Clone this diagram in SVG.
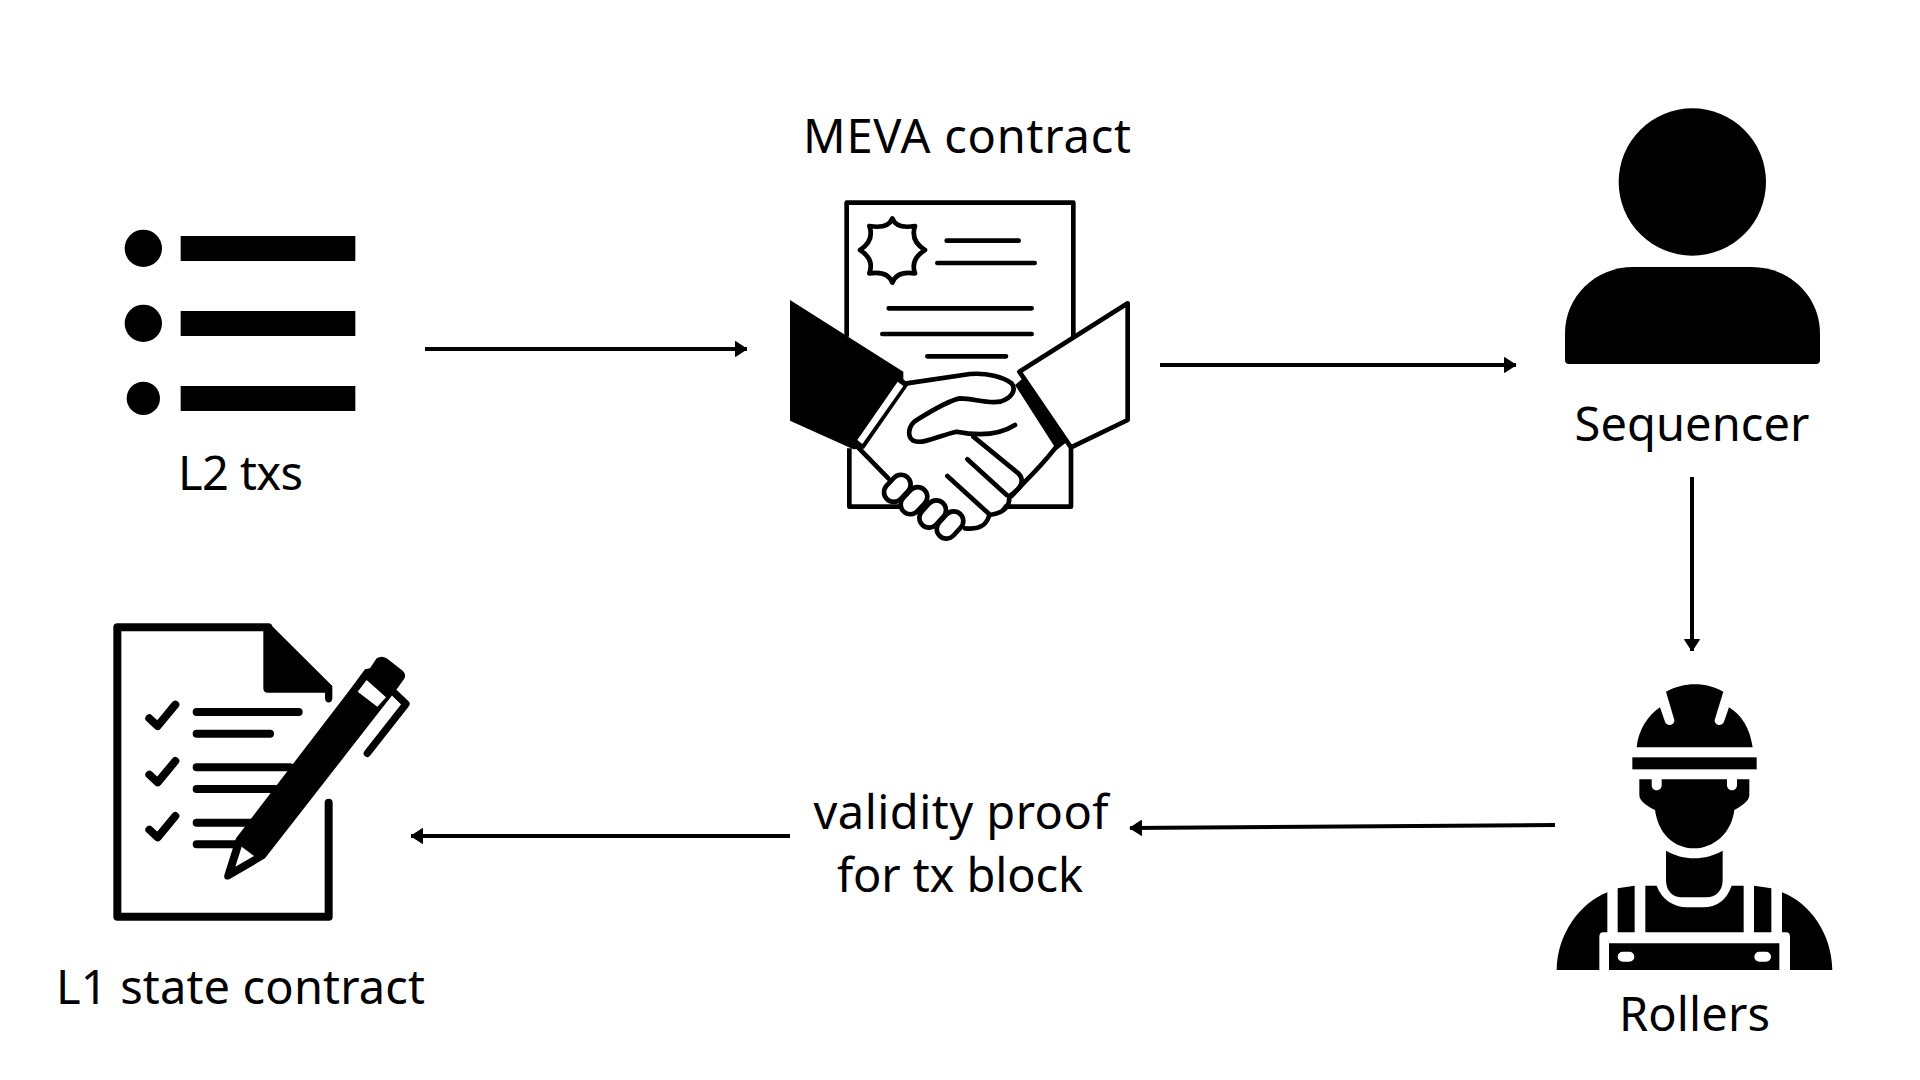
<svg xmlns="http://www.w3.org/2000/svg" width="1920" height="1080" viewBox="0 0 1920 1080">
<style>
.t{font-family:"Noto Sans","Open Sans",sans-serif;font-size:47px;fill:#000;text-anchor:middle}
.c{fill:none;stroke:#000;stroke-width:4;marker-end:url(#a)}
.k{fill:none;stroke:#000;stroke-linecap:round;stroke-linejoin:round}
</style>
<defs>
<marker id="a" markerUnits="userSpaceOnUse" markerWidth="18" markerHeight="20" refX="14" refY="10" orient="auto"><path d="M2.5 2.5L14 10L2.5 17.5Z" fill="#000" stroke="#000" stroke-width="1" stroke-linejoin="round"/></marker>
<rect id="f" x="-45" y="-29" width="90" height="58" rx="29" fill="#fff" stroke="#000" stroke-width="14"/>
</defs>
<rect width="1920" height="1080" fill="#fff"/>
<g id="connectors">
<line class="c" x1="425" y1="349" x2="747" y2="349"/>
<line class="c" x1="1160" y1="365" x2="1516" y2="365"/>
<line class="c" x1="1692" y1="477" x2="1692" y2="651"/>
<line class="c" x1="1555" y1="825" x2="1130" y2="828"/>
<line class="c" x1="790" y1="836" x2="411" y2="836"/>
</g>
<g id="l2-txs">
<g transform="translate(90,200) scale(.33333)">
<circle cx="160" cy="145" r="56"/><circle cx="160" cy="370" r="56"/><circle cx="160" cy="595" r="50"/>
<rect x="272" y="108" width="524" height="75"/><rect x="272" y="333" width="524" height="75"/><rect x="272" y="558" width="524" height="75"/>
</g>
<text class="t" x="240.5" y="490" textLength="125">L2 txs</text>
</g>
<g id="meva-contract">
<g transform="translate(740,90) scale(.33333)">
<path d="M328 1075V1250H993V1072" fill="#fff" stroke="#000" stroke-width="14" stroke-linejoin="round"/>
<path d="M320 740V338H1000V750" fill="#fff" stroke="#000" stroke-width="14" stroke-linejoin="round"/>
<path class="k" stroke-width="14" d="M457 385Q470 418 525 408Q510 452 555 480Q510 508 525 550Q470 542 457 578Q444 542 388 550Q404 508 360 480Q404 452 388 408Q444 418 457 385Z"/>
<path class="k" stroke-width="14" d="M620 452H836M592 519H884M446 655H875M427 732H875M562 799H798"/>
<path d="M355 1070L445 1165L690 1320L760 1290L810 1220L945 1075L825 880L690 852L500 880Z" fill="#fff"/>
<path d="M150 630L490 845L490 868L507 882L372 1076L340 1078L150 992Z"/>
<path d="M473 875L490 888L367 1062L352 1050Z" fill="#fff"/>
<path d="M1163 640L838 845L993 1072L1163 990Z" fill="#fff" stroke="#000" stroke-width="14" stroke-linejoin="round"/>
<path d="M825 885L852 862L985 1052L950 1080Z"/>
<path class="k" stroke-width="14" d="M352 1070L445 1165"/>
<path class="k" stroke-width="14" d="M500 880L690 852C740 848 790 860 815 880C830 900 815 925 780 935C740 942 700 925 660 925C630 930 570 965 530 990C505 1005 500 1040 520 1052C550 1065 600 1035 650 1025C700 1035 770 1040 825 1005"/>
<path class="k" stroke-width="14" d="M945 1075C910 1120 880 1150 850 1180L815 1218"/>
<path class="k" stroke-width="14" d="M700 1040L835 1150C855 1170 845 1195 808 1218C810 1250 790 1270 748 1275C740 1305 720 1320 675 1315"/>
<path class="k" stroke-width="14" d="M682 1108L800 1215M622 1158L745 1270"/>
<use href="#f" transform="translate(522,1232) rotate(-47)"/>
<use href="#f" transform="translate(472,1195) rotate(-47)"/>
<use href="#f" transform="translate(578,1272) rotate(-47)"/>
<use href="#f" transform="translate(630,1305) rotate(-47)"/>
</g>
<text class="t" x="967" y="153" textLength="328">MEVA contract</text>
</g>
<g id="sequencer">
<g transform="translate(1540,90) scale(.33333)">
<circle cx="457" cy="276" r="221"/>
<path d="M75 810V730C75 620 165 531 280 531H635C750 531 840 620 840 730V810Q840 822 828 822H87Q75 822 75 810Z"/>
</g>
<text class="t" x="1692" y="441" textLength="235">Sequencer</text>
</g>
<g id="rollers">
<g transform="translate(1540,670) scale(.33333)">
<path d="M290 232C295 180 325 135 360 112L375 155C382 172 405 165 403 150L378 65C430 35 500 35 550 65L524 150C522 165 545 172 552 155L567 112C605 135 630 175 638 232Z"/>
<rect x="277" y="262" width="373" height="36"/>
<path d="M298 328H335V345C335 366 365 366 365 345V328H561V345C561 366 591 366 591 345V328H628V375C628 395 600 410 583 420C575 490 520 535 463 535C400 535 355 490 345 420C325 410 298 395 298 375Z"/>
<path d="M378 542C430 572 495 572 548 542V630C548 665 525 682 500 682H425C400 682 378 665 378 630Z"/>
<path d="M50 900C52 790 120 700 202 667V787H190Q178 787 178 800V900Z"/>
<path d="M726 667C810 700 875 790 877 900H750V800Q750 787 738 787H726Z"/>
<path d="M233 655L284 647V787H233Z"/><path d="M642 647L694 655V787H642Z"/>
<path d="M316 647H350C365 690 405 712 440 712H490C530 712 560 690 575 647H611V787H316Z"/>
<path fill-rule="evenodd" d="M207 820H718V900H207ZM248 845a15 15 0 0 0 0 30h20a15 15 0 0 0 0-30ZM658 845a15 15 0 0 0 0 30h20a15 15 0 0 0 0-30Z"/>
</g>
<text class="t" x="1694.5" y="1031" textLength="151">Rollers</text>
</g>
<g id="proof-label">
<text class="t" x="961" y="829" textLength="295">validity proof</text>
<text class="t" x="960" y="892" textLength="246">for tx block</text>
</g>
<g id="l1-state-contract">
<g transform="translate(90,600) scale(.33333)">
<path class="k" stroke-width="24" d="M716 608V950H82V82H535"/>
<path d="M520 82L540 72L727 258V295C727 312 705 312 705 295V278H532Q520 278 520 265Z"/>
<path class="k" stroke-width="24" d="M320 336H626M320 401H540M320 502H600M320 567H555M320 668H490M320 733H440"/>
<path class="k" stroke-width="24" d="M178 355L203 378L256 314M178 524L203 547L256 483M178 689L203 712L256 648"/>
<path d="M438 715L775 275L825 208L840 205L860 175Q875 165 890 175L938 212Q952 225 940 240L915 275L860 345L525 775L418 838Q400 842 403 825Z"/>
<path d="M803 275L830 240L888 292L862 320Z" fill="#fff"/>
<path d="M455 740L492 768L436 800Z" fill="#fff"/>
<path class="k" stroke-width="22" d="M915 280L948 312L832 460"/>
</g>
<text class="t" x="240.5" y="1004" textLength="369">L1 state contract</text>
</g>
</svg>
